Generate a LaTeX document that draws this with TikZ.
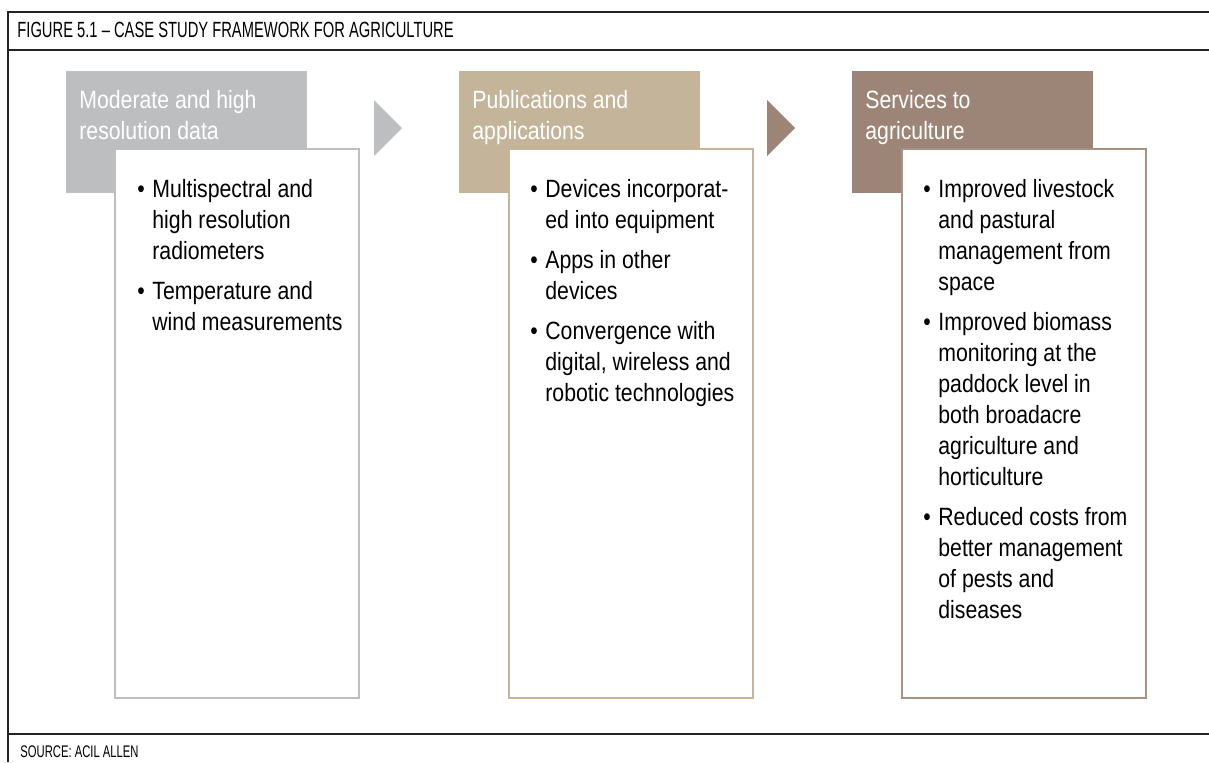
\documentclass[tikz,border=0pt]{standalone}
\usepackage{fontspec}
\setmainfont[FakeStretch=0.85]{Liberation Sans}
\newfontfamily\capsfont[FakeStretch=0.67]{Liberation Sans}

\definecolor{greyhead}{RGB}{189,190,192}
\definecolor{tanhead}{RGB}{196,180,154}
\definecolor{brownhead}{RGB}{156,133,119}
\definecolor{frameline}{RGB}{35,35,35}

\tikzset{
  head/.style={fill=#1, minimum width=120.5pt, minimum height=61pt, anchor=north west, inner sep=0pt},
  body/.style={draw=#1, fill=white, line width=1.2pt, minimum width=122pt, minimum height=274.5pt, anchor=north west, inner sep=0pt},
  headtxt/.style={text=white, anchor=base west, inner sep=0pt, font=\fontsize{12.5}{15.5}\selectfont},
  itemtxt/.style={anchor=base west, inner sep=0pt, font=\fontsize{12.5}{15.5}\selectfont},
  frame/.style={draw=frameline, line width=0.75pt},
}

\begin{document}
\begin{tikzpicture}[x=0.5pt, y=-0.5pt]
\useasboundingbox (0,0) rectangle (1209,762);

% Рамка
\draw[frame] (8,762) -- (8,12) -- (1209,12);
\draw[frame] (8,50) -- (1209,50);
\draw[frame] (8,734) -- (1209,734);
\node[anchor=base west, inner sep=0pt, font=\capsfont\fontsize{11}{13}\selectfont] (title) at (17,37) {FIGURE 5.1 – CASE STUDY FRAMEWORK FOR AGRICULTURE};
\node[anchor=base west, inner sep=0pt, font=\capsfont\fontsize{8.4}{10}\selectfont] (source) at (20,757) {SOURCE: ACIL ALLEN};

% Заголовки
\node[head=greyhead] (h1) at (66,71) {};
\node[head=tanhead] (h2) at (459,71) {};
\node[head=brownhead] (h3) at (852,71) {};

\node[headtxt] (t1) at ([xshift=6.5pt, yshift=-18.5pt]h1.north west) {\begin{tabular}[t]{@{}l@{}}Moderate and high\\resolution data\end{tabular}};
\node[headtxt] (t2) at ([xshift=6.5pt, yshift=-18.5pt]h2.north west) {\begin{tabular}[t]{@{}l@{}}Publications and\\applications\end{tabular}};
\node[headtxt] (t3) at ([xshift=6.5pt, yshift=-18.5pt]h3.north west) {\begin{tabular}[t]{@{}l@{}}Services to\\agriculture\end{tabular}};

% Стрілки
\foreach \x/\c in {374/greyhead, 767/brownhead} {
  \fill[\c] (\x,100) -- ++(28,28) -- ++(-28,28) -- cycle;
}

% Блоки з пунктами
\node[body=greyhead] (b1) at (114,148) {};
\node[body=tanhead] (b2) at (508,148) {};
\node[body=brownhead!90] (b3) at (901,148) {};

\node[itemtxt] (l1) at ([xshift=11.5pt, yshift=-24.5pt]b1.north west) {\begin{tabular}[t]{@{}p{7.5pt}@{}l@{}}
• & Multispectral and\\ & high resolution\\ & radiometers\\[4.5pt]
• & Temperature and\\ & wind measurements
\end{tabular}};
\node[itemtxt] (l2) at ([xshift=11pt, yshift=-24.5pt]b2.north west) {\begin{tabular}[t]{@{}p{7.5pt}@{}l@{}}
• & Devices incorporat-\\ & ed into equipment\\[4.5pt]
• & Apps in other\\ & devices\\[4.5pt]
• & Convergence with\\ & digital, wireless and\\ & robotic technologies
\end{tabular}};
\node[itemtxt] (l3) at ([xshift=11pt, yshift=-24.5pt]b3.north west) {\begin{tabular}[t]{@{}p{7.5pt}@{}l@{}}
• & Improved livestock\\ & and pastural\\ & management from\\ & space\\[4.5pt]
• & Improved biomass\\ & monitoring at the\\ & paddock level in\\ & both broadacre\\ & agriculture and\\ & horticulture\\[4.5pt]
• & Reduced costs from\\ & better management\\ & of pests and\\ & diseases
\end{tabular}};

\end{tikzpicture}
\end{document}
